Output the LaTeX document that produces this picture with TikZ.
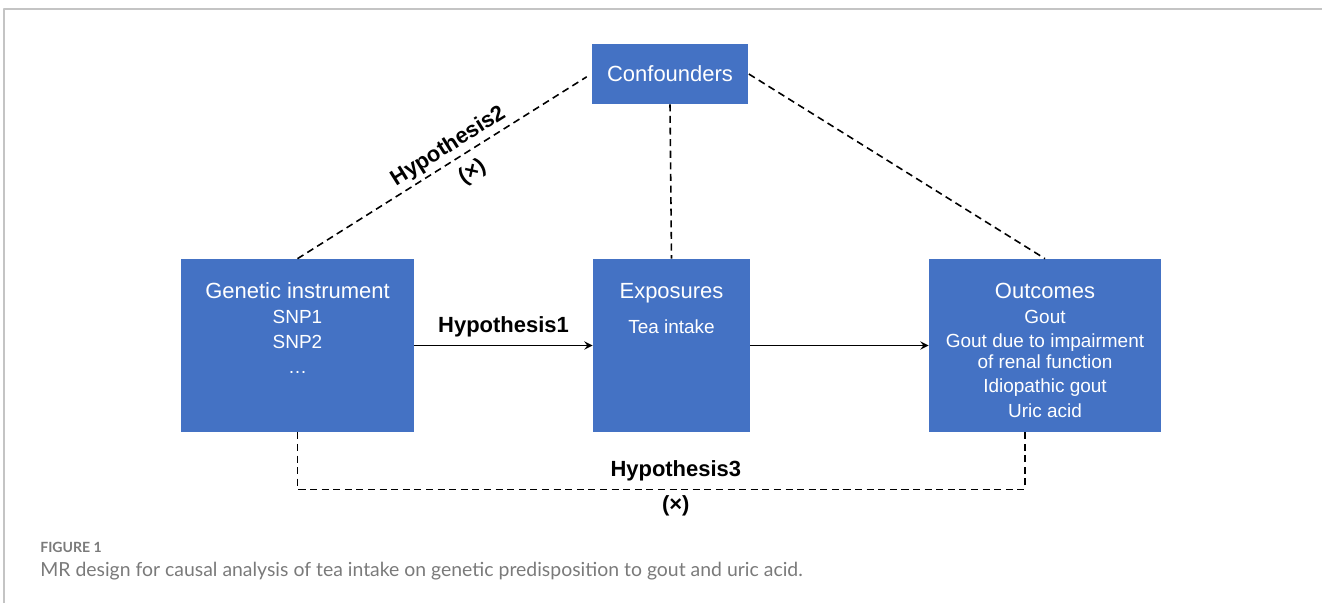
\documentclass[tikz,border=0pt]{standalone}
\usepackage{fontspec}
\setmainfont{Liberation Sans}
\newfontfamily\capfont{Lato}
\usetikzlibrary{positioning}
\definecolor{boxblue}{HTML}{4472C4}
\definecolor{framegray}{HTML}{C4C4C4}
\definecolor{capgray}{HTML}{7A7A7A}
\begin{document}
\begin{tikzpicture}[x=0.02cm,y=-0.02cm,line join=round,>=stealth,
  block/.style={fill=boxblue,draw=none,inner sep=0pt,minimum height=3.46cm},
  blocktext/.style={text=white,align=center,inner sep=0pt,font=\fontsize{10.8}{14.1}\selectfont},
  hyp/.style={font=\bfseries\fontsize{12.5}{14}\selectfont,inner sep=2pt},
  link/.style={dash pattern=on 4pt off 2.6pt,line width=0.9pt}]
\def\ttl#1{{\fontsize{12.5}{14.1}\selectfont #1}}
\useasboundingbox (0,0) rectangle (1322,603);
\draw[framegray,line width=0.7pt] (4,603)--(4,9)--(1322,9);
% boxes
\node[block,minimum width=4.66cm] (gen) at (297.5,345.5) {};
\node[block,minimum width=3.14cm] (exp) at (671.5,345.5) {};
\node[block,minimum width=4.64cm] (out) at (1045,345.5) {};
\node[block,minimum width=3.14cm,minimum height=1.2cm,text=white,
  font=\fontsize{12.5}{14}\selectfont] (conf) at (670,74) {Confounders};
% box texts
\node[blocktext,below=0.48cm of gen.north] (gentxt) {\ttl{Genetic instrument}\\SNP1\\SNP2\\…};
\node[blocktext,below=0.48cm of exp.north] (exptxt) {\ttl{Exposures}\\[5.8pt]Tea intake};
\node[blocktext,below=0.48cm of out.north] (outtxt) {\ttl{Outcomes}\\Gout\\Gout due to impairment\\[-2.6pt]of renal function\\Idiopathic gout\\Uric acid};
% links
\draw[->,line width=1.1pt] (gen.east) -- (exp.west) node[hyp,midway,above=2pt]{Hypothesis1};
\draw[->,line width=1.1pt] (exp.east) -- (out.west);
\draw[link,shorten >=3pt] (gen.north) -- (conf.west)
  node[hyp,sloped,above,pos=0.54]{Hypothesis2}
  node[hyp,sloped,below=3pt,pos=0.56]{(×)};
\draw[link] (conf.south) -- (exp.north);
\draw[link] (conf.east) -- (out.north);
\coordinate (h3r) at ([xshift=-0.4cm]out.south);
\draw[link] (gen.south) -- ++(0,57) coordinate (h3l) -- (h3l -| h3r)
  node[hyp,pos=0.52,above=2pt]{Hypothesis3}
  node[hyp,pos=0.52,below=1pt]{(×)} -- (h3r);
% caption
\node[anchor=base west,inner sep=0pt,text=capgray,font=\capfont\bfseries\fontsize{8}{9}\selectfont] (fig) at (40,552) {FIGURE 1};
\node[anchor=base west,inner sep=0pt,text=capgray,font=\capfont\fontsize{11.05}{13}\selectfont] (cap) at (40,576) {MR design for causal analysis of tea intake on genetic predisposition to gout and uric acid.};
\end{tikzpicture}
\end{document}
